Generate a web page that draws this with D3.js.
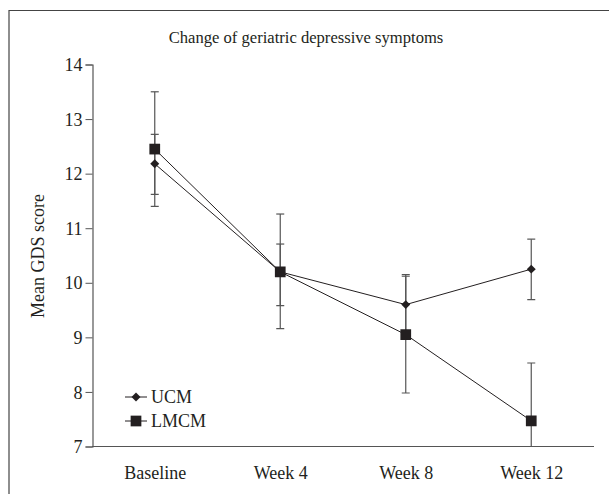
<!DOCTYPE html>
<html><head><meta charset="utf-8">
<script src="https://cdn.jsdelivr.net/npm/d3@7"></script>
<style>body{margin:0;background:#fff}svg{display:block}text{font-family:"Liberation Serif","DejaVu Serif",serif;fill:#231f20}</style>
</head><body>
<svg id="c" width="609" height="494"></svg>
<script>
const categories = ["Baseline", "Week 4", "Week 8", "Week 12"];
const ucmMean  = [12.18, 10.2, 9.6, 10.25];
const ucmLow   = [11.62, 9.58, 9.05, 9.69];
const ucmHigh  = [12.72, 10.71, 10.15, 10.8];
const lmcmMean = [12.45, 10.2, 9.05, 7.47];
const lmcmLow  = [11.4, 9.16, 7.98, 6.41];
const lmcmHigh = [13.5, 11.26, 10.12, 8.53];
const yTicks = [7, 8, 9, 10, 11, 12, 13, 14];
const seriesNames = ["UCM", "LMCM"];
const title = "Change of geriatric depressive symptoms";
const yLabel = "Mean GDS score";

const svg = d3.select("#c");
const ink = "#231f20", axisCol = "#555";

// frame
svg.append("path").attr("d", "M9,494 V10.5 H609").attr("fill", "none").attr("stroke", "#444").attr("stroke-width", 1.2);

const x = d3.scalePoint().domain(categories).range([92, 594]).padding(0.5);
const y = d3.scaleLinear().domain([7, 14]).range([446.5, 64.5]);

const gy = svg.append("g").attr("transform", "translate(92.5,0)")
  .call(d3.axisLeft(y).tickValues(yTicks).tickSize(7).tickPadding(3).tickFormat(d3.format("d")));
gy.attr("font-family", null).attr("font-size", null);
gy.select(".domain").attr("stroke", axisCol).attr("stroke-width", 1.2);
gy.selectAll(".tick line").attr("stroke", axisCol);
gy.selectAll("text").style("font-size", "18px").style("font-family", "Liberation Serif").attr("fill", ink).attr("dy", "0.34em");

const gx = svg.append("g").attr("transform", "translate(0,446.5)")
  .call(d3.axisBottom(x).tickSize(0).tickPadding(20));
gx.attr("font-family", null).attr("font-size", null);
gx.select(".domain").attr("d", "M92,0H594").attr("stroke", axisCol).attr("stroke-width", 1.2);
gx.selectAll("text").style("font-size", "18px").style("font-family", "Liberation Serif").attr("fill", ink);

svg.append("text").attr("x", 306).attr("y", 43).attr("text-anchor", "middle").style("font-size", "16.6px").text(title);
svg.append("text").attr("transform", "translate(44,256) rotate(-90)").attr("text-anchor", "middle").style("font-size", "18px").text(yLabel);

svg.append("clipPath").attr("id", "plot").append("rect").attr("x", 92).attr("y", 0).attr("width", 510).attr("height", 446.5);
const plot = svg.append("g").attr("clip-path", "url(#plot)");

const series = [
  {name: seriesNames[0], mean: ucmMean, low: ucmLow, high: ucmHigh, sym: d3.symbolSquare, size: 40, rot: 45},
  {name: seriesNames[1], mean: lmcmMean, low: lmcmLow, high: lmcmHigh, sym: d3.symbolSquare, size: 115, rot: 0}
];

// error bars
series.forEach(s => {
  categories.forEach((c, i) => {
    const cx = x(c);
    plot.append("line").attr("x1", cx).attr("x2", cx).attr("y1", y(s.low[i])).attr("y2", y(s.high[i])).attr("stroke", axisCol).attr("stroke-width", 1.2);
    [s.low[i], s.high[i]].forEach(v => {
      plot.append("line").attr("x1", cx - 4).attr("x2", cx + 4).attr("y1", y(v)).attr("y2", y(v)).attr("stroke", axisCol).attr("stroke-width", 1.2);
    });
  });
});
// lines
const line = d3.line().x((d, i) => x(categories[i])).y(d => y(d));
series.forEach(s => {
  plot.append("path").attr("d", line(s.mean)).attr("fill", "none").attr("stroke", ink).attr("stroke-width", 1);
});
// markers
series.forEach(s => {
  s.mean.forEach((v, i) => {
    plot.append("path").attr("d", d3.symbol().type(s.sym).size(s.size)()).attr("transform", `translate(${x(categories[i])},${y(v)}) rotate(${s.rot})`).attr("fill", ink);
  });
});

// legend
const lg = svg.append("g");
series.forEach((s, i) => {
  const ly = 397 + i * 24;
  lg.append("line").attr("x1", 125).attr("x2", 147).attr("y1", ly).attr("y2", ly).attr("stroke", ink).attr("stroke-width", 1);
  lg.append("path").attr("d", d3.symbol().type(s.sym).size(s.size)()).attr("transform", `translate(136,${ly}) rotate(${s.rot})`).attr("fill", ink);
  lg.append("text").attr("x", 151).attr("y", ly + 6).style("font-size", "18px").text(s.name);
});
</script>
</body></html>
